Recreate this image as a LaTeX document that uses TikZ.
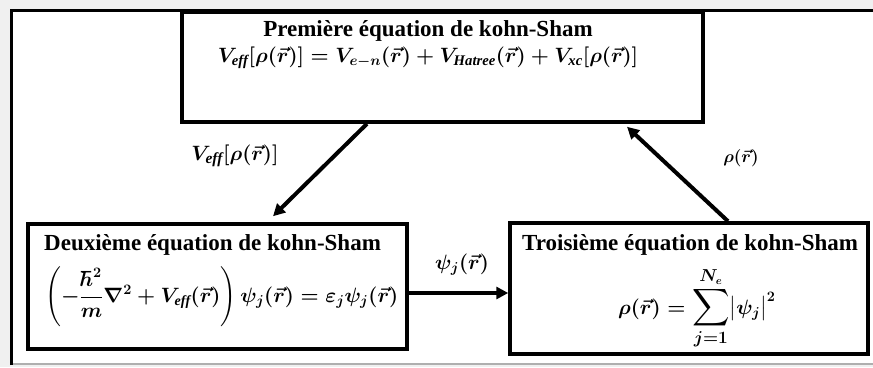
\documentclass[tikz,border=0pt]{standalone}
\usepackage{amsmath,amssymb}
\usepackage{graphicx}
\usepackage{fontspec}
\setmainfont{Liberation Serif}
\usetikzlibrary{arrows.meta, positioning, calc}
\definecolor{PageGrey}{RGB}{240,240,240}
\definecolor{EdgeGrey}{RGB}{175,175,175}
\newcommand{\rvec}{\vec{r}}
\newcommand{\bigsum}{\mathop{\scalebox{1.3}{$\displaystyle\sum$}}\limits}
\newcommand{\limtext}[1]{\text{\fontsize{16}{16}\selectfont$#1$}}

\begin{document}
\begin{tikzpicture}[x=1pt, y=-1pt,
  eqbox/.style={draw=black, line width=3.5pt, fill=white, inner sep=0pt},
  eqtitle/.style={font=\bfseries\fontsize{#1}{#1}\selectfont, inner sep=0pt},
  eqtitle/.default=23,
  eqmath/.style={font=\fontsize{#1}{#1}\selectfont\boldmath, inner sep=0pt},
  eqmath/.default=20,
  lbl/.style={font=\fontsize{#1}{#1}\selectfont\boldmath, inner sep=0pt},
  arr/.style={-{Triangle[length=12pt, width=12pt]}, line width=4pt},
]
% page and frame
\useasboundingbox (0,0) rectangle (873,367);
\fill[PageGrey] (0,0) rectangle (873,367);
\fill[white] (11,10) rectangle (873,364);
\draw[EdgeGrey, line width=1.5pt] (11,364) -- (873,364);
\draw[line width=3pt] (11,365) -- (11,10) -- (873,10);

% the three equations
\node[eqbox, minimum width=521pt, minimum height=110pt] (eq1) at (442.5,67) {};
\node[eqtitle, anchor=base] (eq1title) at (428,36) {Première équation de kohn-Sham};
\node[eqmath=21, anchor=base] (eq1math) at (428,62)
  {$V_{\mathit{eff}}[\rho(\rvec)] = V_{e-n}(\rvec) + V_{\mathit{Hatree}}(\rvec) + V_{\mathit{xc}}[\rho(\rvec)]$};

\node[eqbox, minimum width=379pt, minimum height=125pt] (eq2) at (217.5,286.5) {};
\node[eqtitle, anchor=base west] (eq2title) at (44,250) {Deuxième équation de kohn-Sham};
\node[eqmath, anchor=west] (eq2math) at (45,297)
  {$\left(-\dfrac{\hbar^2}{m}\nabla^2 + V_{\mathit{eff}}(\rvec)\right)\psi_j(\rvec) = \varepsilon_j\psi_j(\rvec)$};

\node[eqbox, minimum width=358pt, minimum height=131pt] (eq3) at (689,288.5) {};
\node[eqtitle, anchor=base west] (eq3title) at (522,250) {Troisième équation de kohn-Sham};
\node[eqmath, anchor=base west] (eq3math) at (618,314)
  {$\rho(\rvec) = \bigsum_{\limtext{j{=}1}}^{\limtext{N_e}}\bigl|\psi_j\bigr|^2$};

% connectors
\draw[arr] ([xshift=-75.5pt]eq1.south) -- ([xshift=55.5pt, yshift=6pt]eq2.north);
\draw[arr] ([yshift=-6.5pt]eq2.east) -- ([yshift=-6.5pt]eq2.east -| eq3.west);
\draw[arr] ([xshift=39pt]eq3.north) -- ([xshift=184.5pt, yshift=-3pt]eq1.south);

% labels
\node[lbl=22] (lblVeff) at (235,156) {$V_{\mathit{eff}}[\rho(\rvec)]$};
\node[lbl=20] (lblPsi) at (462,265) {$\psi_j(\rvec)$};
\node[lbl=18] (lblRho) at (741,158) {$\rho(\rvec)$};
\end{tikzpicture}
\end{document}
